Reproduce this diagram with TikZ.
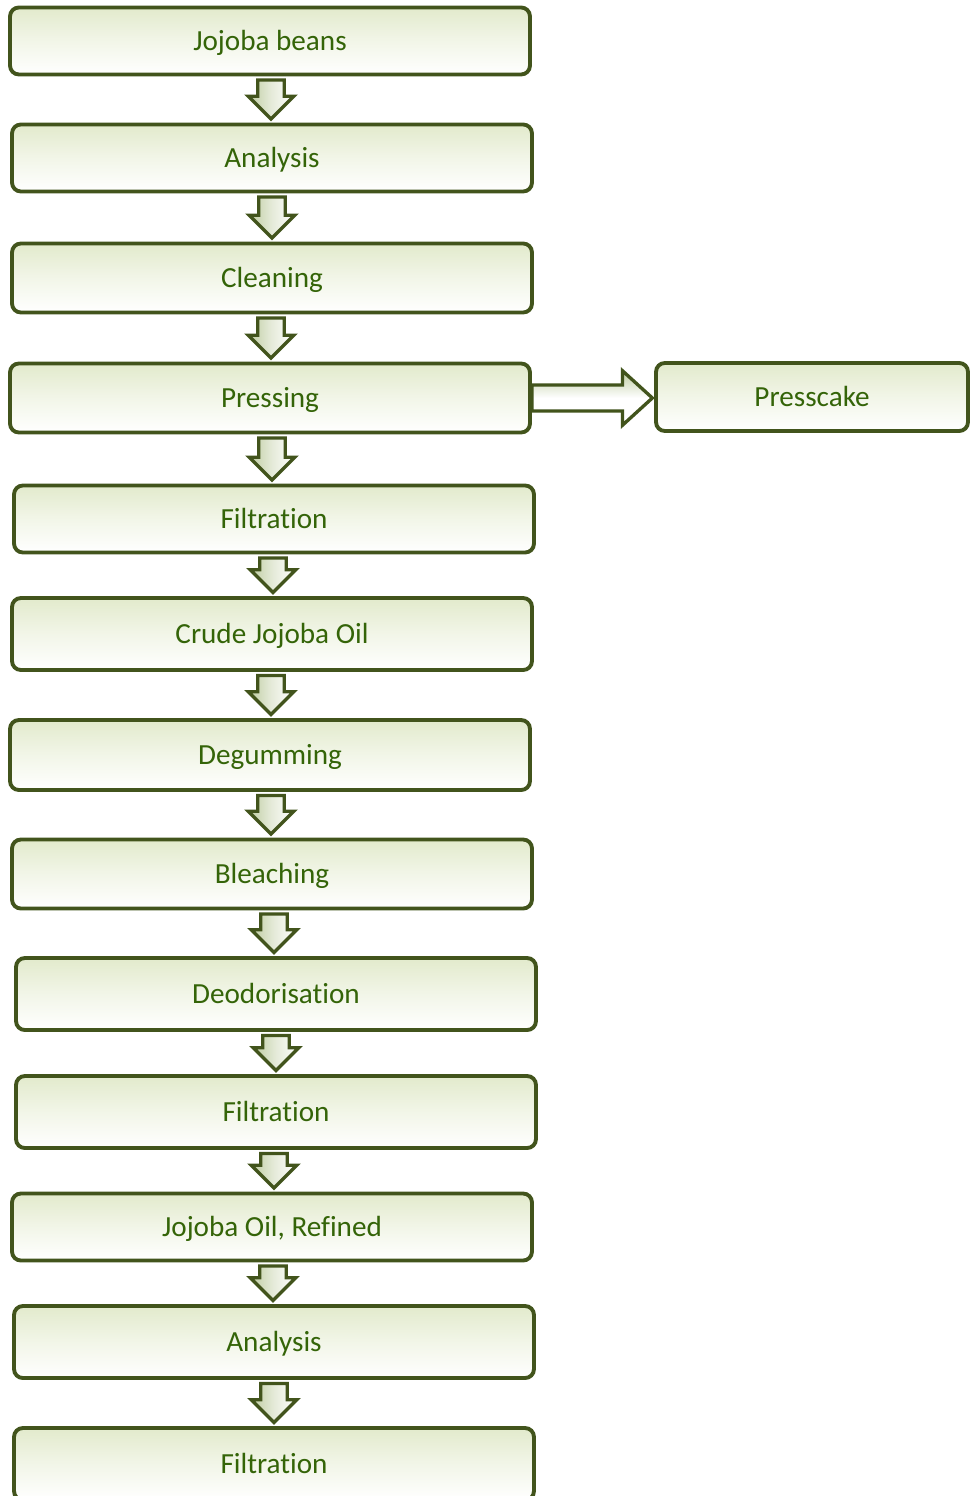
\documentclass[tikz,border=0pt]{standalone}
\usepackage{fontspec}
\setmainfont{Carlito}[Ligatures=NoCommon]
\usepackage{xcolor}
\usepackage{tikz}
\usetikzlibrary{calc}
\definecolor{jojobaline}{RGB}{66, 84, 28}
\definecolor{jojobatext}{RGB}{52, 100, 8}
\definecolor{jojobafill}{RGB}{226, 234, 204}
\definecolor{jojobashaft}{RGB}{190, 204, 160}

\tikzset{
  stepbox/.style={draw=jojobaline, line width=2.2pt, rounded corners=5pt,
    top color=jojobafill, bottom color=white, middle color=jojobafill!45,
    minimum width=10.4cm, minimum height=1.34cm, text=jojobatext,
    text height=10.7pt, text depth=0pt,
    font=\fontsize{16.6}{19}\selectfont},
  flowarrow/.style={draw=jojobaline, line width=1.9pt, line join=miter,
    left color=jojobashaft, right color=white, middle color=jojobashaft!40}
}

% block arrow pointing down, from node #1 to node #2
\newcommand{\downflow}[2]{%
  \path[flowarrow] let \p1=($(#1.south)!0.5!(#2.north)$), \p2=(#1.south), \p3=(#2.north) in
    (\x1-7.5pt,\y2-2pt) -- (\x1+7.5pt,\y2-2pt) -- (\x1+7.5pt,\y3+15pt) -- (\x1+13pt,\y3+15pt)
    -- (\x1,\y3+2pt) -- (\x1-13pt,\y3+15pt) -- (\x1-7.5pt,\y3+15pt) -- cycle;}
% block arrow pointing right, from node #1 to node #2
\newcommand{\rightflow}[2]{%
  \path[flowarrow, top color=jojobashaft, bottom color=white, middle color=white]
    let \p2=(#1.east), \p3=(#2.west) in
    (\x2,\y2+7.4pt) -- (\x3-18pt,\y2+7.4pt) -- (\x3-18pt,\y2+15.5pt) -- (\x3-1pt,\y2)
    -- (\x3-18pt,\y2-15.5pt) -- (\x3-18pt,\y2-7.4pt) -- (\x2,\y2-7.4pt) -- cycle;}

\begin{document}
\begin{tikzpicture}[x=0.02cm, y=-0.02cm]
                \useasboundingbox (0,0) rectangle (976,1496);

                % Main process chain
                \node[stepbox] (beans) at (270,41) {Jojoba beans};
                \node[stepbox] (analysis) at (272,158) {Analysis};
                \node[stepbox, minimum height=1.38cm] (cleaning) at (272,278) {Cleaning};
                \node[stepbox, minimum height=1.38cm] (pressing) at (270,398) {Pressing};
                \node[stepbox] (filtration) at (274,519) {Filtration};
                \node[stepbox, minimum height=1.44cm] (crude) at (272,634) {Crude Jojoba Oil};
                \node[stepbox, minimum height=1.40cm] (degumming) at (270,755) {Degumming};
                \node[stepbox, minimum height=1.38cm] (bleaching) at (272,874) {Bleaching};
                \node[stepbox, minimum height=1.44cm] (deodor) at (276,994) {Deodorisation};
                \node[stepbox, minimum height=1.44cm] (filtrationb) at (276,1112) {Filtration};
                \node[stepbox] (refined) at (272,1227) {Jojoba Oil, Refined};
                \node[stepbox, minimum height=1.44cm] (analysisb) at (274,1342) {Analysis};
                \node[stepbox, minimum height=1.44cm] (filtrationc) at (274,1464) {Filtration};

                % Side product
                \node[stepbox, minimum width=6.24cm, minimum height=1.36cm] (presscake) at (812,397) {Presscake};

                % Arrows
                \downflow{beans}{analysis}
                \downflow{analysis}{cleaning}
                \downflow{cleaning}{pressing}
                \downflow{pressing}{filtration}
                \downflow{filtration}{crude}
                \downflow{crude}{degumming}
                \downflow{degumming}{bleaching}
                \downflow{bleaching}{deodor}
                \downflow{deodor}{filtrationb}
                \downflow{filtrationb}{refined}
                \downflow{refined}{analysisb}
                \downflow{analysisb}{filtrationc}
                \rightflow{pressing}{presscake}
\end{tikzpicture}
\end{document}
